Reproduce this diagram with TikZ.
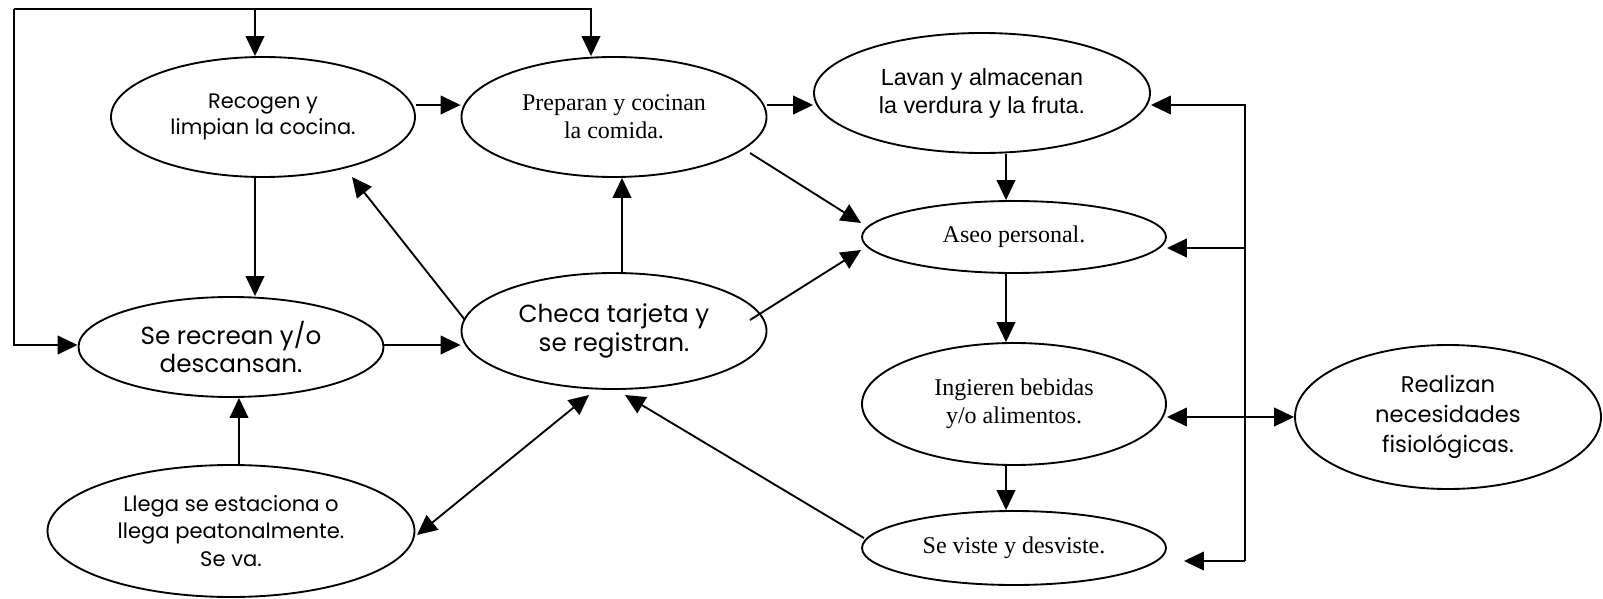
\documentclass[tikz,border=0pt]{standalone}
\usepackage{fontspec}
\setmainfont{Liberation Serif}
\newfontfamily\gothic{Poppins}
\newfontfamily\arialf{Liberation Sans}
\usetikzlibrary{arrows.meta,shapes.geometric,calc}
\begin{document}
\begin{tikzpicture}[x=0.75pt,y=-0.75pt,
  el/.style={draw, line width=1.4pt, ellipse, inner sep=0pt, align=center},
  arr/.style={line width=1.4pt, -{Triangle[length=15pt,width=14pt]}},
  darr/.style={line width=1.4pt, {Triangle[length=15pt,width=14pt]}-{Triangle[length=15pt,width=14pt]}},
  ser/.style={font=\fontsize{18}{21}\selectfont},
  goth/.style={font=\gothic\fontsize{15.7}{19}\selectfont},
  gothbig/.style={font=\gothic\fontsize{18.5}{21.5}\selectfont},
  goth3/.style={font=\gothic\fontsize{15.8}{20.5}\selectfont},
  gothr/.style={font=\gothic\fontsize{17}{22.5}\selectfont},
  arl/.style={font=\arialf\fontsize{17.5}{21}\selectfont}
]
\useasboundingbox (0,0) rectangle (1603,599);

\node[el, goth, minimum width=304*0.75pt, minimum height=120*0.75pt] (rec) at (263,117) {Recogen y\\limpian la cocina.};
\node[el, ser, minimum width=305*0.75pt, minimum height=120*0.75pt] (prep) at (614,117) {Preparan y cocinan\\la comida.};
\node[el, arl, minimum width=336*0.75pt, minimum height=120*0.75pt] (lav) at (982,93) {Lavan y almacenan\\la verdura y la fruta.};
\node[el, ser, minimum width=304*0.75pt, minimum height=72*0.75pt] (aseo) at (1014,237) {Aseo personal.};
\node[el, gothbig, minimum width=305*0.75pt, minimum height=100*0.75pt] (recr) at (231,347) {Se recrean y/o\\descansan.};
\node[el, gothbig, minimum width=305*0.75pt, minimum height=116*0.75pt] (checa) at (614,331) {Checa tarjeta y\\se registran.};
\node[el, goth3, minimum width=367*0.75pt, minimum height=132*0.75pt] (llega) at (231,531) {Llega se estaciona o\\llega peatonalmente.\\Se va.};
\node[el, ser, minimum width=304*0.75pt, minimum height=122*0.75pt] (ing) at (1014,404) {Ingieren bebidas\\y/o alimentos.};
\node[el, gothr, minimum width=306*0.75pt, minimum height=144*0.75pt] (real) at (1448,417) {Realizan\\necesidades\\fisiológicas.};
\node[el, ser, minimum width=304*0.75pt, minimum height=74*0.75pt] (vis) at (1014,548) {Se viste y desviste.};

% left/top loop
\coordinate (tl) at (14,9);
\coordinate (bl) at (14,345);
\coordinate (tp) at (591,9);
\coordinate (tr) at (255,9);
\draw[arr] (tl) -- (bl) -- (recr.west |- bl);
\draw[arr] (tl) -- (tp) -- (prep.north -| tp);
\draw[arr] (tr) -- (rec.north -| tr);

\draw[arr] (rec.east |- 0,105) -- (prep.west |- 0,105);
\draw[arr] (prep.east |- 0,105) -- (lav.west |- 0,105);
\draw[arr] (rec.south -| tr) -- (recr.north -| tr);
\draw[arr] (recr.east |- bl) -- (checa.west |- bl);

\coordinate (cx) at (622,0);
\draw[arr] (checa.north -| cx) -- (prep.south -| cx);
\draw[arr] ($(checa)+(-149,-11)$) -- ($(rec)+(89,60)$);
\draw[arr] ($(prep)+(136,36)$) -- ($(aseo)+(-153,-14)$);
\draw[arr] ($(checa)+(136,-11)$) -- ($(aseo)+(-153,13)$);
\draw[darr] ($(llega)+(186,4)$) -- ($(checa)+(-25,64)$);
\draw[arr] ($(vis)+(-150,-10)$) -- ($(checa)+(11,64)$);

\coordinate (lx) at (239,0);
\draw[arr] (llega.north -| lx) -- (recr.south -| lx);

\coordinate (vx) at (1006,0);
\draw[arr] (lav.south -| vx) -- (aseo.north -| vx);
\draw[arr] (aseo.south -| vx) -- (ing.north -| vx);
\draw[arr] (ing.south -| vx) -- (vis.north -| vx);

\draw[darr] (ing.east |- 0,417) -- (real.west |- 0,417);

\coordinate (rt) at (1245,105);
\coordinate (rb) at (1245,561);
\draw[arr] (rb) -- (rt) -- (lav.east |- rt);
\draw[arr] (rt |- 0,248) -- (aseo.east |- 0,248);
\draw[arr] (rb) -- ($(vis.east |- rb)+(17,0)$);
\end{tikzpicture}
\end{document}
